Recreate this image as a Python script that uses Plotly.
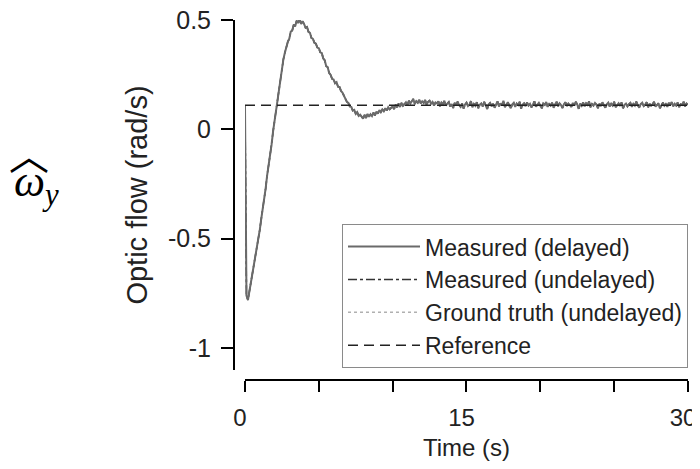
import numpy as np
import plotly.graph_objects as go

# optic flow samples every 0.1 s from 0 to 30 s (rad/s)
measured_delayed = [
    0.11, -0.76, -0.78, -0.74, -0.71, -0.67, -0.64, -0.59, -0.55, -0.50,
    -0.46, -0.41, -0.37, -0.31, -0.27, -0.21, -0.17, -0.11, -0.07, -0.01,
    0.04, 0.09, 0.14, 0.19, 0.24, 0.28, 0.32, 0.35, 0.38, 0.40,
    0.415, 0.447, 0.452, 0.478, 0.471, 0.497, 0.486, 0.505, 0.482, 0.494,
    0.482, 0.465, 0.468, 0.446, 0.441, 0.418, 0.414, 0.396, 0.392, 0.374,
    0.371, 0.352, 0.349, 0.324, 0.316, 0.289, 0.284, 0.258, 0.249, 0.231,
    0.228, 0.211, 0.216, 0.195, 0.194, 0.176, 0.168, 0.151, 0.143, 0.126,
    0.121, 0.104, 0.103, 0.086, 0.089, 0.071, 0.079, 0.062, 0.067, 0.055,
    0.049, 0.066, 0.052, 0.071, 0.058, 0.069, 0.061, 0.077, 0.064, 0.081,
    0.072, 0.088, 0.079, 0.091, 0.083, 0.097, 0.086, 0.101, 0.092, 0.099,
    0.104, 0.093, 0.112, 0.101, 0.118, 0.103, 0.121, 0.108, 0.116, 0.124,
    0.112, 0.131, 0.118, 0.127, 0.139, 0.116, 0.129, 0.122, 0.136, 0.119,
    0.128, 0.121, 0.134, 0.113, 0.126, 0.131, 0.117, 0.125, 0.109, 0.123,
    0.119, 0.128, 0.106, 0.122, 0.114, 0.131, 0.109, 0.118, 0.125, 0.104,
    0.116, 0.098, 0.121, 0.109, 0.127, 0.111, 0.103, 0.119, 0.095, 0.114,
    0.122, 0.107, 0.113, 0.129, 0.101, 0.116, 0.108, 0.124, 0.097, 0.112,
    0.118, 0.104, 0.126, 0.111, 0.093, 0.115, 0.121, 0.106, 0.117, 0.099,
    0.113, 0.128, 0.105, 0.119, 0.109, 0.131, 0.102, 0.116, 0.124, 0.108,
    0.097, 0.114, 0.121, 0.103, 0.118, 0.111, 0.126, 0.095, 0.112, 0.119,
    0.106, 0.123, 0.109, 0.117, 0.101, 0.114, 0.128, 0.104, 0.115, 0.121,
    0.108, 0.096, 0.118, 0.112, 0.125, 0.103, 0.116, 0.109, 0.122, 0.099,
    0.114, 0.127, 0.106, 0.119, 0.111, 0.098, 0.115, 0.124, 0.107, 0.118,
    0.112, 0.103, 0.121, 0.109, 0.126, 0.114, 0.094, 0.117, 0.108, 0.123,
    0.105, 0.119, 0.112, 0.128, 0.101, 0.116, 0.109, 0.121, 0.113, 0.097,
    0.118, 0.107, 0.124, 0.111, 0.099, 0.115, 0.122, 0.104, 0.117, 0.109,
    0.126, 0.102, 0.114, 0.119, 0.108, 0.123, 0.096, 0.112, 0.118, 0.105,
    0.115, 0.121, 0.103, 0.117, 0.109, 0.127, 0.111, 0.099, 0.116, 0.122,
    0.107, 0.113, 0.124, 0.101, 0.118, 0.109, 0.115, 0.126, 0.104, 0.112,
    0.119, 0.097, 0.114, 0.122, 0.108, 0.116, 0.103, 0.121, 0.111, 0.125,
    0.106, 0.117, 0.109, 0.123, 0.101, 0.115, 0.112, 0.127, 0.105, 0.118,
    0.113,
]
time_s = np.round(np.arange(len(measured_delayed)) * 0.1, 1)

reference_t = [0, 30]
reference_v = [0.11, 0.11]

x_tickvals = [0, 5, 10, 15, 20, 25, 30]
x_ticktext = ["0", "", "", "15", "", "", "30"]
y_tickvals = [-1, -0.5, 0, 0.5]
y_ticktext = ["-1", "-0.5", "0", "0.5"]

FONT = "Liberation Sans, Arial, sans-serif"

fig = go.Figure()
# undelayed traces coincide with the delayed one in the figure
fig.add_trace(go.Scatter(x=time_s, y=measured_delayed, mode="lines",
                         name="Ground truth (undelayed)",
                         line=dict(color="#b0b0b0", width=1.5, dash="dot")))
fig.add_trace(go.Scatter(x=time_s, y=measured_delayed, mode="lines",
                         name="Measured (undelayed)",
                         line=dict(color="#333333", width=1.5, dash="dashdot")))
fig.add_trace(go.Scatter(x=time_s, y=measured_delayed, mode="lines",
                         name="Measured (delayed)",
                         line=dict(color="#6a6a6a", width=2)))
fig.add_trace(go.Scatter(x=reference_t, y=reference_v, mode="lines",
                         name="Reference",
                         line=dict(color="#222222", width=1.5, dash="10px,6px")))

# page body adds an 8px margin, so the figure is 692x461
fig.update_layout(
    template="none",
    width=692, height=461,
    margin=dict(l=226, r=12, t=12, b=89),
    paper_bgcolor="white", plot_bgcolor="white",
    font=dict(family=FONT, size=25, color="#222222"),
    legend=dict(
        x=1, y=0.033, xanchor="right", yanchor="bottom",
        traceorder="normal",
        bordercolor="#8a8a8a", borderwidth=1, bgcolor="white",
        font=dict(size=23), itemwidth=72,
    ),
    xaxis=dict(
        domain=[0.0242, 1], range=[0, 30], anchor="free", position=0,
        automargin=False, ticklabeloverflow="allow", ticklabelshift=-5,
        showline=True, linecolor="black", linewidth=2,
        ticks="outside", ticklen=11, tickwidth=2, tickcolor="black",
        tickvals=x_tickvals, ticktext=x_ticktext, ticklabelstandoff=5,
        tickfont=dict(size=24),
        showgrid=False, zeroline=False,
        title=dict(text="Time (s)", standoff=8, font=dict(size=24)),
    ),
    yaxis=dict(
        domain=[0.0278, 1], range=[-1.1, 0.5], anchor="free", position=0,
        automargin=False, ticklabeloverflow="allow",
        showline=True, linecolor="black", linewidth=2,
        ticks="outside", ticklen=12, tickwidth=2, tickcolor="black",
        tickvals=y_tickvals, ticktext=y_ticktext, ticklabelstandoff=5,
        showgrid=False, zeroline=False,
        title=dict(text="Optic flow (rad/s)", standoff=11, font=dict(size=29)),
    ),
)

# legend order as in the reference
order = ["Measured (delayed)", "Measured (undelayed)", "Ground truth (undelayed)", "Reference"]
for tr in fig.data:
    tr.legendrank = order.index(tr.name)

# hatted omega label left of the axis
fig.add_annotation(
    x=-0.488, y=0.544, xref="paper", yref="paper",
    xanchor="left", yanchor="middle", showarrow=False,
    text="<i>ω</i><sub><i>y</i></sub>",
    font=dict(family="Liberation Serif, DejaVu Serif, serif", size=44, color="black"),
)
fig.add_annotation(
    x=-0.4515, y=0.631, xref="paper", yref="paper",
    xanchor="center", yanchor="middle", showarrow=False,
    text="︿",
    font=dict(family="Noto Sans CJK SC, sans-serif", size=40, color="black"),
)

fig.write_html("out.html")
